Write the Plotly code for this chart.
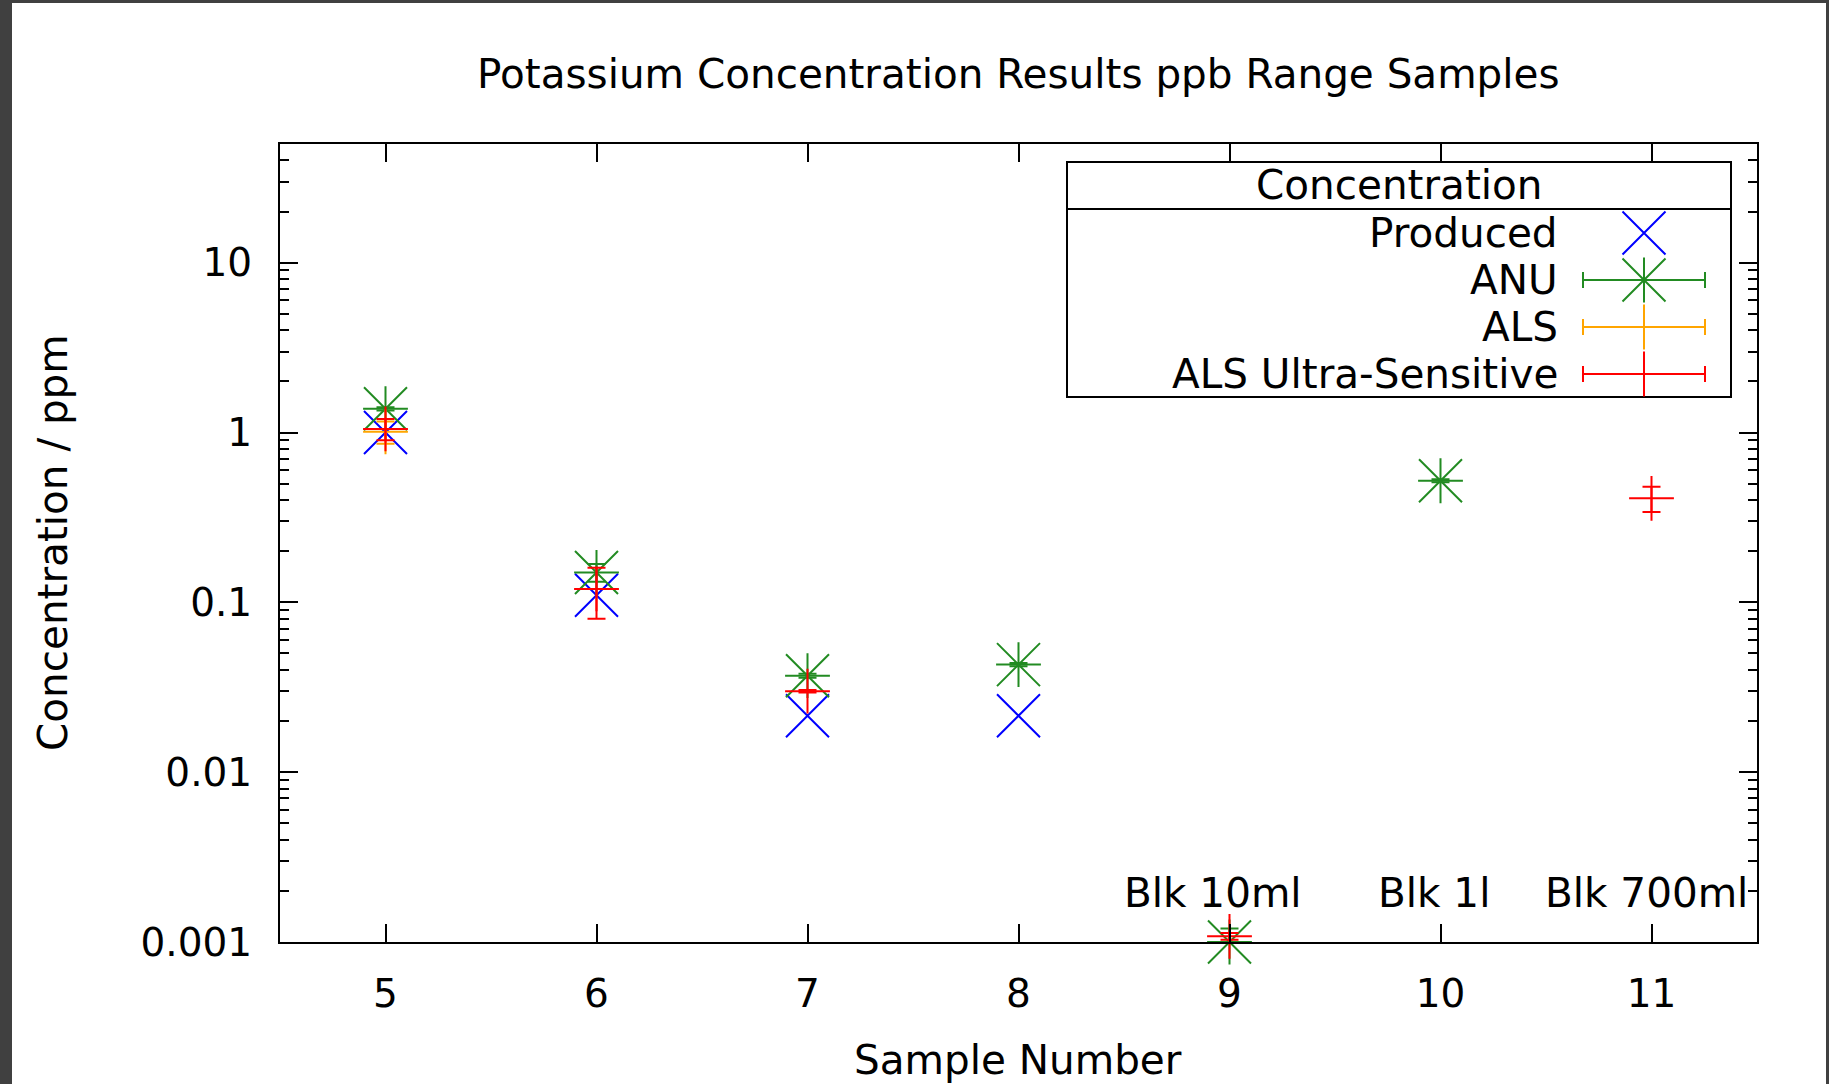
import math
import plotly.graph_objects as go

# ---------------- data ----------------
samples_produced = [5, 6, 7, 8]
produced = [1.0, 0.11, 0.0215, 0.0215]

samples_anu = [5, 6, 7, 8, 9, 10]
anu = [1.38, 0.15, 0.037, 0.043, 0.001, 0.52]
anu_err = [0.03, 0.018, 0.001, 0.001, 0.0002, 0.01]

samples_als = [5]
als = [1.01]
als_err = [0.15]

samples_als_us = [5, 6, 7, 9, 11]
als_us = [1.05, 0.12, 0.03, 0.00108, 0.41]
als_us_err = [0.15, 0.04, 0.0005, 0.00005, 0.07]

x_tickvals = [5, 6, 7, 8, 9, 10, 11]
y_tickvals = [0.001, 0.01, 0.1, 1, 10]
y_ticktext = ["0.001", "0.01", "0.1", "1", "10"]

blank_labels = ["Blk 10ml", "Blk 1l", "Blk 700ml"]
blank_x = [9, 10, 11]
blank_shift = [-17, -7, -5]

series_names = ["Produced", "ANU", "ALS", "ALS Ultra-Sensitive"]
legend_title = "Concentration"

# ---------------- style ----------------
W, H = 1829, 1084
L, R, T, B = 280, 1757, 144, 942          # plot area in pixels
FONT = "DejaVu Sans"
FS = 40.5
FS_TICK = 39
BLUE, GREEN, ORANGE, RED = "#0000ff", "#228b22", "#ffa500", "#ff0000"
MSIZE = {"x-thin": 43, "cross-thin": 32}
LW = 2

fig = go.Figure()


def pts(x, y, color, symbol, name, err=None, show=False, xa="x", ya="y", errx=None, capw=9):
    kw = {}
    if err is not None:
        kw["error_y"] = dict(type="data", array=err, symmetric=True, color=color,
                             thickness=LW, width=capw)
    if errx is not None:
        kw["error_x"] = dict(type="data", array=errx, symmetric=True, color=color,
                             thickness=LW, width=capw)
    fig.add_trace(go.Scatter(
        x=x, y=y, mode="markers", name=name, showlegend=show,
        xaxis=xa, yaxis=ya, cliponaxis=False,
        marker=dict(symbol=symbol, size=MSIZE[symbol], color=color,
                    line=dict(color=color, width=LW)),
        **kw))


# data traces (gnuplot order: later on top)
pts(samples_produced, produced, BLUE, "x-thin", series_names[0])
pts(samples_anu, anu, GREEN, "cross-thin", series_names[1], err=anu_err)
pts(samples_anu, anu, GREEN, "x-thin", series_names[1])
pts(samples_als, als, ORANGE, "cross-thin", series_names[2], err=als_err)
pts(samples_als_us, als_us, RED, "cross-thin", series_names[3], err=als_us_err)

# ---------------- custom gnuplot-style key (pixel overlay axes) ----------------
key_left, key_right, key_top, key_sep, key_bottom = 1067, 1731, 162, 209, 397
key_sample_x = 1644
key_text_right = 1560
key_rows = [233, 280, 327, 374]
key_half = 61

pts([key_sample_x], [key_rows[0]], BLUE, "x-thin", "k0", xa="x2", ya="y2")
pts([key_sample_x], [key_rows[1]], GREEN, "cross-thin", "k1", xa="x2", ya="y2", errx=[key_half], capw=8)
pts([key_sample_x], [key_rows[1]], GREEN, "x-thin", "k1b", xa="x2", ya="y2")
pts([key_sample_x], [key_rows[2]], ORANGE, "cross-thin", "k2", xa="x2", ya="y2", errx=[key_half], capw=8)
pts([key_sample_x], [key_rows[3]], RED, "cross-thin", "k3", xa="x2", ya="y2", errx=[key_half], capw=8)

shapes = [
    dict(type="rect", xref="x2", yref="y2", x0=key_left, x1=key_right, y0=key_top, y1=key_bottom,
         line=dict(color="black", width=2), fillcolor="white", layer="below"),
    dict(type="line", xref="x2", yref="y2", x0=key_left, x1=key_right, y0=key_sep, y1=key_sep,
         line=dict(color="black", width=2), layer="below"),
]


def px(xp):
    return (xp - L) / (R - L)


def py(yp):
    return (B - yp) / (B - T)


# dark window frame around the picture
FR = "#404040"
shapes += [
    dict(type="rect", xref="paper", yref="paper", x0=px(-5), x1=px(12), y0=py(H + 5), y1=py(-5),
         line=dict(width=0), fillcolor=FR, layer="above"),
    dict(type="rect", xref="paper", yref="paper", x0=px(-5), x1=px(W + 5), y0=py(3), y1=py(-5),
         line=dict(width=0), fillcolor=FR, layer="above"),
    dict(type="rect", xref="paper", yref="paper", x0=px(1826), x1=px(W + 5), y0=py(H + 5), y1=py(-5),
         line=dict(width=0), fillcolor=FR, layer="above"),
]

font = dict(family=FONT, size=FS, color="black")
tfont = dict(family=FONT, size=FS_TICK, color="black")
ann = [
    dict(text="Potassium Concentration Results ppb Range Samples", xref="paper", yref="paper",
         x=px(1018), y=py(74), xanchor="center", yanchor="middle", showarrow=False, font=font),
    dict(text="Sample Number", xref="paper", yref="paper",
         x=px(1018), y=py(1060), xanchor="center", yanchor="middle", showarrow=False, font=font),
    dict(text="Concentration / ppm", xref="paper", yref="paper", textangle=-90,
         x=px(53), y=py(543), xanchor="center", yanchor="middle", showarrow=False, font=font),
    dict(text=legend_title, xref="x2", yref="y2", x=(key_left + key_right) / 2, y=185,
         xanchor="center", yanchor="middle", showarrow=False, font=font),
]
for name, yr in zip(series_names, key_rows):
    ann.append(dict(text=name, xref="x2", yref="y2", x=key_text_right, y=yr,
                    xanchor="right", yanchor="middle", showarrow=False, font=font))
for lab, xv, sh in zip(blank_labels, blank_x, blank_shift):
    ann.append(dict(text=lab, xref="x", yref="paper", x=xv, xshift=sh, y=py(893),
                    xanchor="center", yanchor="middle", showarrow=False, font=font))

minor_vals = [m * 10 ** e for e in range(-3, 2) for m in range(2, 10) if m * 10 ** e <= 50]

axis_common = dict(showline=True, linewidth=2, linecolor="black", mirror="allticks",
                   ticks="inside", ticklen=18, tickwidth=2, tickcolor="black",
                   showgrid=False, zeroline=False, tickfont=tfont)

fig.update_layout(
    width=W, height=H, autosize=False,
    margin=dict(l=L, r=W - R, t=T, b=H - B, pad=0),
    paper_bgcolor="white", plot_bgcolor="white",
    showlegend=False,
    xaxis=dict(range=[4.5, 11.5], tickmode="array", tickvals=x_tickvals,
               ticklabelstandoff=16, **axis_common),
    yaxis=dict(type="log", range=[-3, math.log10(50)], tickmode="array",
               tickvals=y_tickvals, ticktext=y_ticktext, ticklabelstandoff=18,
               minor=dict(tickmode="array", tickvals=minor_vals, ticks="inside",
                          ticklen=9, tickwidth=2, tickcolor="black", showgrid=False),
               **axis_common),
    xaxis2=dict(overlaying="x", anchor="y2", range=[L, R], visible=False),
    yaxis2=dict(overlaying="y", anchor="x2", range=[B, T], visible=False),
    shapes=shapes, annotations=ann,
    font=font,
)

fig.write_html("out.html", config={"displayModeBar": False},
               post_script="document.body.style.margin='0';document.body.style.overflow='hidden';")
